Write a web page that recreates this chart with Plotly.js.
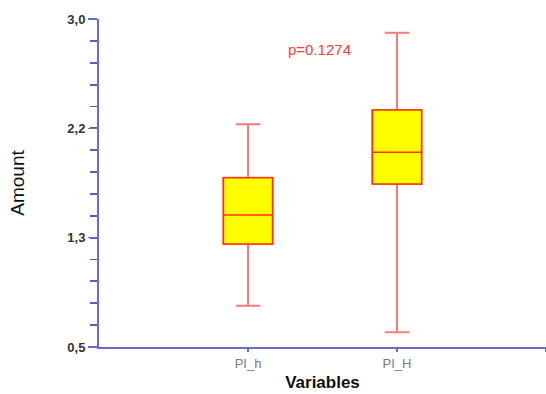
<!DOCTYPE html>
<html>
<head>
<meta charset="utf-8">
<script src="https://cdn.plot.ly/plotly-3.0.1.min.js"></script>
<style>html,body{margin:0;padding:0;background:#fff;}#chart{width:546px;height:394px;}</style>
</head>
<body>
<div id="chart"></div>
<script>
const categories = ['PI_h', 'PI_H'];
const lowerFence = [0.815, 0.612];
const q1 = [1.285, 1.742];
const median = [1.506, 1.984];
const q3 = [1.790, 2.306];
const upperFence = [2.197, 2.896];
const yTickVals = [0.5, 1.3333, 2.1667, 3.0];
const yTickText = ['0,5', '1,3', '2,2', '3,0'];
const pText = 'p=0.1274';

const xs = categories.map((c, i) => i);
const whiskerTrace = {
  type: 'box',
  x: xs,
  q1: q1, median: median, q3: q3,
  lowerfence: lowerFence, upperfence: upperFence,
  width: 0.33,
  whiskerwidth: 0.5,
  fillcolor: '#ffff00',
  line: {color: '#ff7878', width: 2},
  boxpoints: false,
  hoverinfo: 'none',
  showlegend: false
};
const boxTrace = {
  type: 'box',
  x: xs,
  q1: q1, median: median, q3: q3,
  lowerfence: q1, upperfence: q3,
  width: 0.33,
  whiskerwidth: 0,
  fillcolor: '#ffff00',
  line: {color: '#ff3300', width: 1.6},
  boxpoints: false,
  hoverinfo: 'none',
  showlegend: false
};

const layout = {
  width: 546, height: 394,
  margin: {l: 99, r: 0, t: 19, b: 47},
  paper_bgcolor: '#fff', plot_bgcolor: '#fff',
  font: {family: 'Liberation Sans, Arial, sans-serif'},
  boxmode: 'overlay',
  xaxis: {
    range: [-1, 2],
    tickmode: 'array',
    tickvals: [0, 1, 2],
    ticktext: categories.concat(['']),
    ticks: 'outside', ticklen: 3, tickwidth: 1.5, tickcolor: '#6a6ac8',
    showline: true, linecolor: '#6a6ac8', linewidth: 2,
    showgrid: false, zeroline: false,
    tickfont: {size: 13, color: '#777790'},
    title: {text: '<b>Variables</b>', font: {size: 17, color: '#111'}, standoff: 7}
  },
  yaxis: {
    range: [0.5, 3.0],
    tickmode: 'array',
    tickvals: yTickVals,
    ticktext: yTickText,
    ticks: 'outside', ticklen: 9, tickwidth: 1.5, tickcolor: '#6a6ac8',
    minor: {tickmode: 'linear', tick0: 0.5, dtick: 2.5/15, ticks: 'outside', ticklen: 7, tickwidth: 1.8, tickcolor: '#5a5ac0', showgrid: false},
    showline: true, linecolor: '#6a6ac8', linewidth: 2,
    showgrid: false, zeroline: false,
    tickfont: {size: 13, color: '#333', weight: 'bold'},
    title: {text: 'Amount', font: {size: 19, color: '#111'}, standoff: 38}
  },
  annotations: [{
    text: pText, xref: 'x', yref: 'y', x: 0.48, y: 2.77,
    showarrow: false, font: {size: 15, color: '#ff3a3a'}
  }]
};

Plotly.newPlot('chart', [whiskerTrace, boxTrace], layout, {staticPlot: true, displayModeBar: false});
</script>
</body>
</html>
